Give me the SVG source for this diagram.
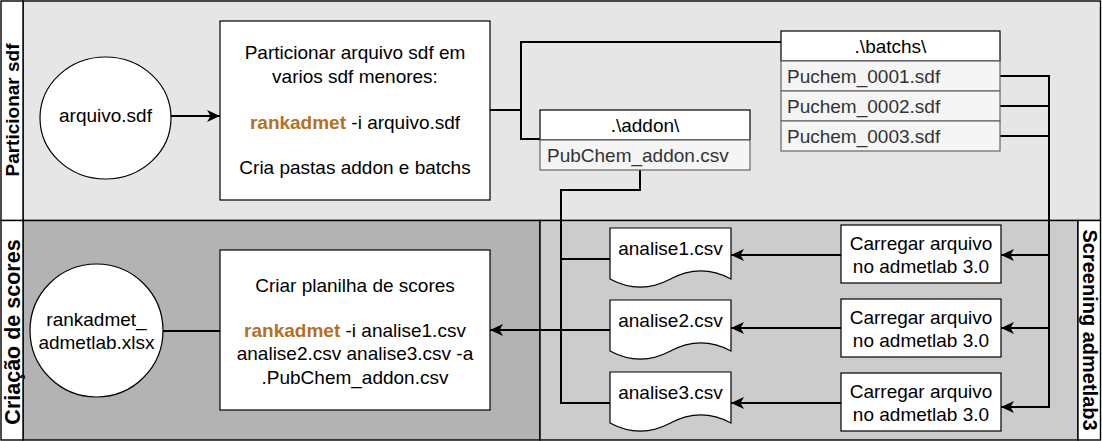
<svg xmlns="http://www.w3.org/2000/svg" width="1102" height="441" viewBox="0 0 1102 441">
<defs>
<style>
text{font-family:"Liberation Sans",Arial,Helvetica,sans-serif;font-size:19px;fill:#000}
.c{text-anchor:middle}
.hd{font-weight:bold;text-anchor:middle}
.rk{font-weight:bold;fill:#B5701F}
.row{fill:#333333}
.shape{fill:#ffffff;stroke:#000;stroke-width:1.2}
.cell{fill:#f5f5f5;stroke:#666666;stroke-width:1.2}
.lane{stroke:#000;stroke-width:1.4}
.edge{fill:none;stroke:#000;stroke-width:2}
</style>
<marker id="arr" markerUnits="userSpaceOnUse" markerWidth="15" markerHeight="13" refX="13" refY="6" orient="auto">
<path d="M0,0 L13,6 L0,12 L3.5,6 Z" fill="#000"/>
</marker>
</defs>

<g id="lanes">
<rect class="lane" x="23" y="1" width="1077.5" height="219.5" fill="#e6e6e6"/>
<rect class="lane" x="1" y="1" width="22" height="219.5" fill="#ffffff"/>
<text class="hd" transform="translate(12,110) rotate(-90)" y="7">Particionar sdf</text>
<rect class="lane" x="23" y="220.5" width="517" height="219.5" fill="#b3b3b3"/>
<rect class="lane" x="1" y="220.5" width="22" height="219.5" fill="#ffffff"/>
<text class="hd" style="font-size:21.5px" transform="translate(12,332) rotate(-90)" y="7.5">Criação de scores</text>
<rect class="lane" x="540" y="220.5" width="538" height="219.5" fill="#cccccc"/>
<rect class="lane" x="1078" y="220.5" width="22.5" height="219.5" fill="#ffffff"/>
<text class="hd" style="font-size:20px" transform="translate(1089.5,330) rotate(90)" y="7">Screening admetlab3</text>
</g>

<g id="connectors">
<line class="edge" x1="171" y1="116" x2="220" y2="116" marker-end="url(#arr)"/>
<polyline class="edge" points="490,110 521,110"/>
<polyline class="edge" points="781,42 521,42 521,139 540,139"/>
<polyline class="edge" points="1000,76 1049,76"/>
<polyline class="edge" points="1000,106 1049,106"/>
<polyline class="edge" points="1000,136 1049,136"/>
<polyline class="edge" points="1049,75 1049,408"/>
<line class="edge" x1="1049" y1="255" x2="1001" y2="255" marker-end="url(#arr)"/>
<line class="edge" x1="1049" y1="328" x2="1001" y2="328" marker-end="url(#arr)"/>
<line class="edge" x1="1049" y1="407" x2="1001" y2="407" marker-end="url(#arr)"/>
<line class="edge" x1="841" y1="255" x2="731" y2="255" marker-end="url(#arr)"/>
<line class="edge" x1="841" y1="328" x2="731" y2="328" marker-end="url(#arr)"/>
<line class="edge" x1="841" y1="403" x2="731" y2="403" marker-end="url(#arr)"/>
<polyline class="edge" points="640,170 640,190 561,190 561,403 610,403"/>
<polyline class="edge" points="610,259 561,259"/>
<line class="edge" x1="610" y1="330" x2="490" y2="330" marker-end="url(#arr)"/>
<line class="edge" x1="220" y1="331" x2="163" y2="331"/>
</g>

<g id="arquivo-sdf">
<ellipse class="shape" cx="105.5" cy="118" rx="65.5" ry="61"/>
<text class="c" x="105.5" y="122">arquivo.sdf</text>
</g>

<g id="particionar">
<rect class="shape" x="220" y="21" width="270" height="179"/>
<text class="c" x="355" y="59">Particionar arquivo sdf em</text>
<text class="c" x="355" y="82.5">varios sdf menores:</text>
<text class="c" x="355" y="129"><tspan class="rk">rankadmet</tspan> -i arquivo.sdf</text>
<text class="c" x="355" y="174">Cria pastas addon e batchs</text>
</g>

<g id="addon">
<rect class="shape" x="540" y="110" width="210" height="30"/>
<text class="c" x="645" y="132">.\addon\</text>
<rect class="cell" x="540" y="140" width="210" height="30"/>
<text class="row" x="547" y="162">PubChem_addon.csv</text>
</g>

<g id="batchs">
<rect class="shape" x="781" y="31" width="219" height="30"/>
<text class="c" x="890.5" y="53">.\batchs\</text>
<rect class="cell" x="781" y="61" width="219" height="30"/>
<text class="row" x="787" y="83">Puchem_0001.sdf</text>
<rect class="cell" x="781" y="91" width="219" height="30"/>
<text class="row" x="787" y="113">Puchem_0002.sdf</text>
<rect class="cell" x="781" y="121" width="219" height="30"/>
<text class="row" x="787" y="143">Puchem_0003.sdf</text>
</g>

<g id="carregar1">
<rect class="shape" x="841" y="225" width="160" height="58"/>
<text class="c" x="921" y="249.5">Carregar arquivo</text>
<text class="c" x="921" y="272.5">no admetlab 3.0</text>
</g>
<g id="carregar2">
<rect class="shape" x="841" y="299" width="160" height="58"/>
<text class="c" x="921" y="323.5">Carregar arquivo</text>
<text class="c" x="921" y="346.5">no admetlab 3.0</text>
</g>
<g id="carregar3">
<rect class="shape" x="841" y="373" width="160" height="58"/>
<text class="c" x="921" y="397.5">Carregar arquivo</text>
<text class="c" x="921" y="420.5">no admetlab 3.0</text>
</g>

<g id="analise1">
<path class="shape" d="M610,228 H731 V279 Q700.75,262.8 670.5,279 Q640.25,295.2 610,279 Z"/>
<text class="c" x="670.5" y="255">analise1.csv</text>
</g>
<g id="analise2">
<path class="shape" d="M610,300 H731 V351 Q700.75,334.8 670.5,351 Q640.25,367.2 610,351 Z"/>
<text class="c" x="670.5" y="327">analise2.csv</text>
</g>
<g id="analise3">
<path class="shape" d="M610,372 H731 V423 Q700.75,406.8 670.5,423 Q640.25,439.2 610,423 Z"/>
<text class="c" x="670.5" y="399">analise3.csv</text>
</g>

<g id="criar-planilha">
<rect class="shape" x="220" y="250" width="270" height="160"/>
<text class="c" x="355" y="292">Criar planilha de scores</text>
<text class="c" x="355" y="337"><tspan class="rk">rankadmet</tspan> -i analise1.csv</text>
<text class="c" x="355" y="360">analise2.csv analise3.csv -a</text>
<text class="c" x="355" y="384">.PubChem_addon.csv</text>
</g>

<g id="rankadmet-xlsx">
<circle class="shape" cx="96.5" cy="330.5" r="66.5"/>
<text class="c" x="96.5" y="326">rankadmet_</text>
<text class="c" x="96.5" y="349">admetlab.xlsx</text>
</g>
</svg>
